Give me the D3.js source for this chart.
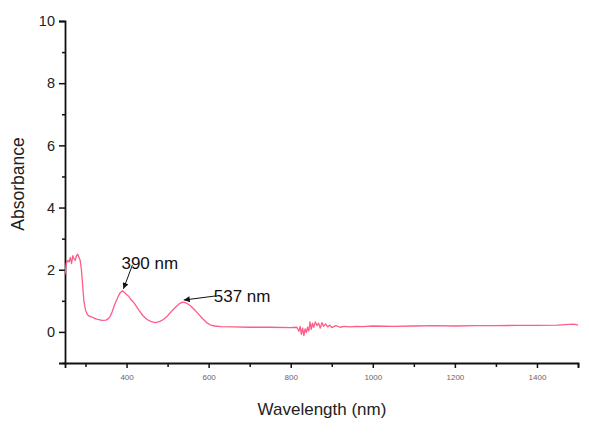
<!DOCTYPE html>
<html>
<head>
<meta charset="utf-8">
<script src="https://cdn.jsdelivr.net/npm/d3@7/dist/d3.min.js"></script>
<style>
  html, body { margin: 0; padding: 0; background: #fff; }
  svg { display: block; font-family: Arial, "Liberation Sans", sans-serif; }
</style>
</head>
<body>
<svg id="chart" width="589" height="435"></svg>
<script>
// UV-Vis-NIR absorbance spectrum
const wavelengths = [
  250, 253, 257, 260, 263, 266, 269, 272, 275, 278, 281, 284, 287, 290, 293, 296,
  300, 305, 310, 315, 320, 325, 330, 340, 350, 355, 360, 365, 370, 375, 380, 385,
  390, 395, 400, 405, 410, 415, 420, 425, 430, 440, 450, 460, 470, 480, 490, 500,
  510, 520, 530, 537, 545, 555, 565, 575, 585, 595, 605, 615, 630, 660, 700, 750,
  800, 815, 820, 823, 826, 829, 832, 835, 838, 841, 844, 847, 850, 853, 856, 860,
  864, 868, 872, 876, 880, 885, 890, 895, 900, 910, 920, 930, 945, 960, 975, 1000,
  1050, 1100, 1150, 1200, 1250, 1300, 1350, 1400, 1450, 1490, 1500
];
const absorbance = [
  1.85, 2.2, 2.3, 2.25, 2.4, 2.2, 2.45, 2.35, 2.3, 2.45, 2.5, 2.4, 2.3, 2.0, 1.5, 1.0,
  0.7, 0.55, 0.5, 0.48, 0.45, 0.42, 0.4, 0.37, 0.38, 0.42, 0.5, 0.65, 0.85, 1.0, 1.15, 1.27,
  1.32, 1.27, 1.2, 1.15, 1.05, 0.98, 0.9, 0.8, 0.7, 0.52, 0.4, 0.33, 0.3, 0.33, 0.4, 0.52,
  0.67, 0.8, 0.92, 0.96, 0.93, 0.85, 0.72, 0.58, 0.43, 0.3, 0.22, 0.19, 0.17, 0.16, 0.15, 0.15,
  0.14, 0.15, 0.02, 0.18, -0.08, 0.12, -0.12, 0.1, -0.02, 0.15, 0.03, 0.32, 0.08, 0.28, 0.15, 0.32,
  0.2, 0.28, 0.12, 0.3, 0.18, 0.26, 0.16, 0.22, 0.14, 0.2, 0.15, 0.18, 0.16, 0.18, 0.17, 0.19,
  0.18, 0.19, 0.2, 0.19, 0.2, 0.2, 0.21, 0.21, 0.22, 0.25, 0.22
];

const xMajorTicks = [400, 600, 800, 1000, 1200, 1400];
const xMinorTicks = [300, 500, 700, 900, 1100, 1300, 1500];
const yMajorTicks = [0, 2, 4, 6, 8, 10];
const yMinorTicks = [-1, 1, 3, 5, 7, 9];

// Peak annotations
const peakLabels = ["390 nm", "537 nm"];
const peakWavelengths = [390, 537];

const svg = d3.select("#chart");

const x = d3.scaleLinear().domain([250, 1500]).range([65, 578]);
const y = d3.scaleLinear().domain([-1, 10]).range([363, 21]);

const axisColor = "#111";

// Y axis
const yAxis = svg.append("g").attr("transform", `translate(${x.range()[0]},0)`);
yAxis.call(d3.axisLeft(y).tickValues(yMajorTicks).tickSize(6).tickPadding(4).tickFormat(d3.format("d")));
yAxis.select(".domain").attr("stroke", axisColor).attr("stroke-width", 1.8);
yAxis.selectAll(".tick line").attr("stroke", axisColor).attr("stroke-width", 1.5);
yAxis.selectAll(".tick text")
  .attr("font-size", 14.5).attr("fill", "#222")
  .attr("font-family", "Arial, 'Liberation Sans', sans-serif");
const yMinor = svg.append("g").attr("transform", `translate(${x.range()[0]},0)`);
yMinor.call(d3.axisLeft(y).tickValues(yMinorTicks).tickSize(3).tickFormat(""));
yMinor.select(".domain").remove();
yMinor.selectAll(".tick line").attr("stroke", axisColor).attr("stroke-width", 1.5);

// X axis
const xAxis = svg.append("g").attr("transform", `translate(0,${y.range()[0]})`);
xAxis.call(d3.axisBottom(x).tickValues(xMajorTicks).tickSize(5).tickPadding(6).tickFormat(d3.format("d")));
xAxis.select(".domain").attr("stroke", axisColor).attr("stroke-width", 1.8);
xAxis.selectAll(".tick line").attr("stroke", axisColor).attr("stroke-width", 1.5);
xAxis.selectAll(".tick text")
  .attr("font-size", 8).attr("fill", "#666")
  .attr("font-family", "Arial, 'Liberation Sans', sans-serif");
const xMinor = svg.append("g").attr("transform", `translate(0,${y.range()[0]})`);
xMinor.call(d3.axisBottom(x).tickValues(xMinorTicks).tickSize(4).tickFormat(""));
xMinor.select(".domain").remove();
xMinor.selectAll(".tick line").attr("stroke", axisColor).attr("stroke-width", 1.5);

// Axis titles
svg.append("text")
  .attr("x", 322).attr("y", 415)
  .attr("text-anchor", "middle")
  .attr("font-size", 17).attr("fill", "#222")
  .text("Wavelength (nm)");
svg.append("text")
  .attr("transform", "translate(24,184) rotate(-90)")
  .attr("text-anchor", "middle")
  .attr("font-size", 17.5).attr("fill", "#222")
  .text("Absorbance");

// Spectrum line
const points = wavelengths.map((w, i) => [w, absorbance[i]]);
svg.append("path")
  .datum(points)
  .attr("fill", "none")
  .attr("stroke", "#ff5c87")
  .attr("stroke-width", 1.3)
  .attr("stroke-linejoin", "round")
  .attr("d", d3.line().x(d => x(d[0])).y(d => y(d[1])));

// Arrowhead marker
svg.append("defs").append("marker")
  .attr("id", "arrow")
  .attr("viewBox", "0 0 10 10")
  .attr("refX", 10).attr("refY", 5)
  .attr("markerWidth", 7).attr("markerHeight", 6)
  .attr("markerUnits", "userSpaceOnUse")
  .attr("orient", "auto")
  .append("path").attr("d", "M0,0 L10,5 L0,10 z").attr("fill", "#111");

// Peak labels with arrows pointing at the curve
const arrowOffsets = [[10, -26], [32, -6]];
const textOffsets = [[-1, -22], [31, 0]];
peakWavelengths.forEach((w, i) => {
  const a = absorbance[wavelengths.indexOf(w)];
  const px = x(w), py = y(a);
  const [ox, oy] = arrowOffsets[i];
  svg.append("line")
    .attr("x1", px + ox).attr("y1", py + oy)
    .attr("x2", px + 1).attr("y2", py - 2)
    .attr("stroke", "#111").attr("stroke-width", 1)
    .attr("marker-end", "url(#arrow)");
  const [tx, ty] = textOffsets[i];
  svg.append("text")
    .attr("x", px + tx).attr("y", py + ty)
    .attr("font-size", 17).attr("fill", "#111")
    .text(peakLabels[i]);
});
</script>
</body>
</html>
